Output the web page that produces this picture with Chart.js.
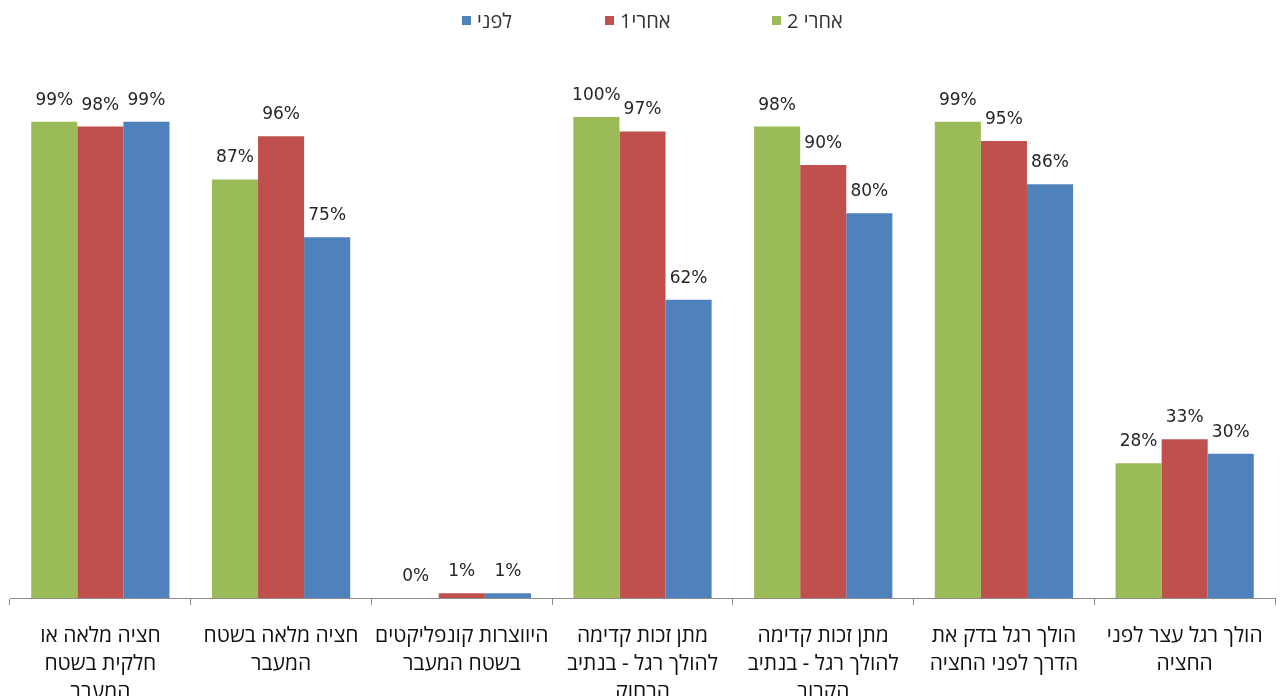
<!DOCTYPE html>
<html lang="he">
<head>
<meta charset="utf-8">
<script src="https://cdn.jsdelivr.net/npm/chart.js@4.4.1/dist/chart.umd.min.js"></script>
<style>
  body { margin: 0; background: #fff; }
  #wrap { position: relative; width: 1280px; height: 696px; overflow: hidden; }
  #legend { position: absolute; top: 0; left: 0; width: 1280px; height: 40px; }
  .item { position: absolute; top: 7px; display: flex; align-items: center; font: 20px "Open Sans", "DejaVu Sans", sans-serif; color: #333; }
  .box { width: 9px; height: 9px; margin-right: 6px; }
</style>
</head>
<body>
<div id="wrap">
  <canvas id="chart" width="1280" height="696" dir="rtl"></canvas>
  <div id="legend"></div>
</div>
<script>
// קטגוריות (שורות לכל תווית)
const categories = [
  ["חציה מלאה או", "חלקית בשטח", "המעבר"],
  ["חציה מלאה בשטח", "המעבר"],
  ["היווצרות קונפליקטים", "בשטח המעבר"],
  ["מתן זכות קדימה", "להולך רגל - בנתיב", "הרחוק"],
  ["מתן זכות קדימה", "להולך רגל - בנתיב", "הקרוב"],
  ["הולך רגל בדק את", "הדרך לפני החציה"],
  ["הולך רגל עצר לפני", "החציה"]
];

const seriesNames = ["אחרי 2", "אחרי1", "לפני"];
const after2 = [99, 87, 0, 100, 98, 99, 28];
const after1 = [98, 96, 1, 97, 90, 95, 33];
const before = [99, 75, 1, 62, 80, 86, 30];

const colors = ["#9BBB59", "#C0504D", "#4F81BD"];

// תוויות ערכים מעל העמודות
const valueLabels = {
  id: "valueLabels",
  afterDatasetsDraw(chart) {
    const ctx = chart.ctx;
    ctx.save();
    ctx.font = '17px "DejaVu Sans", sans-serif';
    ctx.fillStyle = "#262626";
    ctx.textAlign = "center";
    ctx.textBaseline = "bottom";
    chart.data.datasets.forEach((ds, i) => {
      chart.getDatasetMeta(i).data.forEach((bar, j) => {
        ctx.fillText(ds.data[j] + "%", bar.x, bar.y - 13);
      });
    });
    ctx.restore();
  }
};

const chart = new Chart(document.getElementById("chart"), {
  type: "bar",
  data: {
    labels: categories,
    datasets: [
      { label: seriesNames[0], data: after2, backgroundColor: colors[0] },
      { label: seriesNames[1], data: after1, backgroundColor: colors[1] },
      { label: seriesNames[2], data: before, backgroundColor: colors[2] }
    ]
  },
  options: {
    responsive: false,
    animation: false,
    categoryPercentage: 0.765,
    barPercentage: 1,
    layout: { padding: { top: 117, left: 10, right: 5, bottom: 0 } },
    plugins: {
      legend: { display: false },
      tooltip: { enabled: false }
    },
    scales: {
      x: {
        grid: {
          offset: true,
          drawOnChartArea: false,
          tickLength: 7,
          color: "#8c8c8c"
        },
        border: { color: "#8c8c8c" },
        ticks: {
          padding: 17,
          maxRotation: 0,
          autoSkip: false,
          color: "#111",
          font: { family: '"Open Sans", "DejaVu Sans", sans-serif', size: 21, lineHeight: 1.33 }
        },
        afterFit: (scale) => { scale.height = 98; }
      },
      y: {
        display: false,
        min: 0,
        max: 100
      }
    }
  },
  plugins: [valueLabels]
});

// מקרא - בסדר הפוך כמו במקור
const legendX = [462, 605, 772];
const legend = document.getElementById("legend");
[2, 1, 0].forEach((di, k) => {
  const ds = chart.data.datasets[di];
  const item = document.createElement("div");
  item.className = "item";
  item.style.left = legendX[k] + "px";
  const box = document.createElement("span");
  box.className = "box";
  box.style.background = ds.backgroundColor;
  const txt = document.createElement("span");
  txt.dir = "rtl";
  txt.textContent = ds.label;
  item.appendChild(box);
  item.appendChild(txt);
  legend.appendChild(item);
});
</script>
</body>
</html>
